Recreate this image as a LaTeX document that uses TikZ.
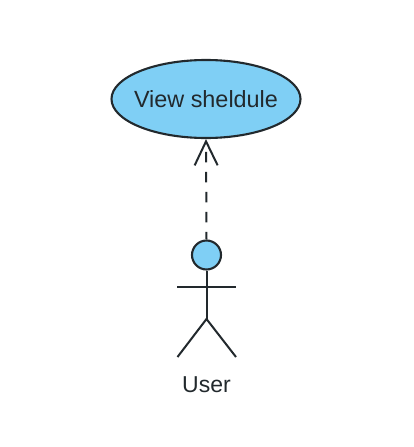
\documentclass[tikz,border=0pt]{standalone}
\usepackage{fontspec}
\setmainfont{Liberation Sans}
\usetikzlibrary{arrows.meta,shapes.geometric}
\definecolor{fillblue}{HTML}{7FCFF5}
\definecolor{ink}{HTML}{22292D}
\tikzset{
  usecase/.style={ellipse,draw=ink,fill=fillblue,line width=2.1pt,minimum width=189pt,minimum height=78pt,inner sep=0pt,inner xsep=-10pt,text=ink,font=\fontsize{23.4}{26}\selectfont},
  headshape/.style={circle,draw=ink,fill=fillblue,line width=2.1pt,minimum size=29pt,inner sep=0pt},
  limb/.style={draw=ink,line width=2pt},
  dep/.style={draw=ink,line width=2pt,dash pattern=on 10.5pt off 9.5pt,dash phase=3pt,-{Straight Barb[length=24pt,width=23pt,line width=2pt]}},
  caption/.style={text=ink,font=\fontsize{23}{26}\selectfont,inner sep=0pt}
}
\begin{document}
\begin{tikzpicture}[x=1pt,y=-1pt]
\useasboundingbox (0,0) rectangle (414,447);
\node[usecase] (uc) at (206,99) {View sheldule};
\node[headshape] (head) at (206.5,255) {};
\coordinate (neck) at (206.5,319);
\coordinate (armL) at (177,287);
\coordinate (armR) at (236,287);
\coordinate (footL) at (177.5,357);
\coordinate (footR) at (236,357);
\draw[limb] (head.south) -- (neck);
\draw[limb] (armL) -- (armR);
\draw[limb] (footL) -- (neck) -- (footR);
\draw[dep] (head.north) -- (uc.south);
\node[caption] (lbl) at (206.5,384.5) {User};
\end{tikzpicture}
\end{document}
